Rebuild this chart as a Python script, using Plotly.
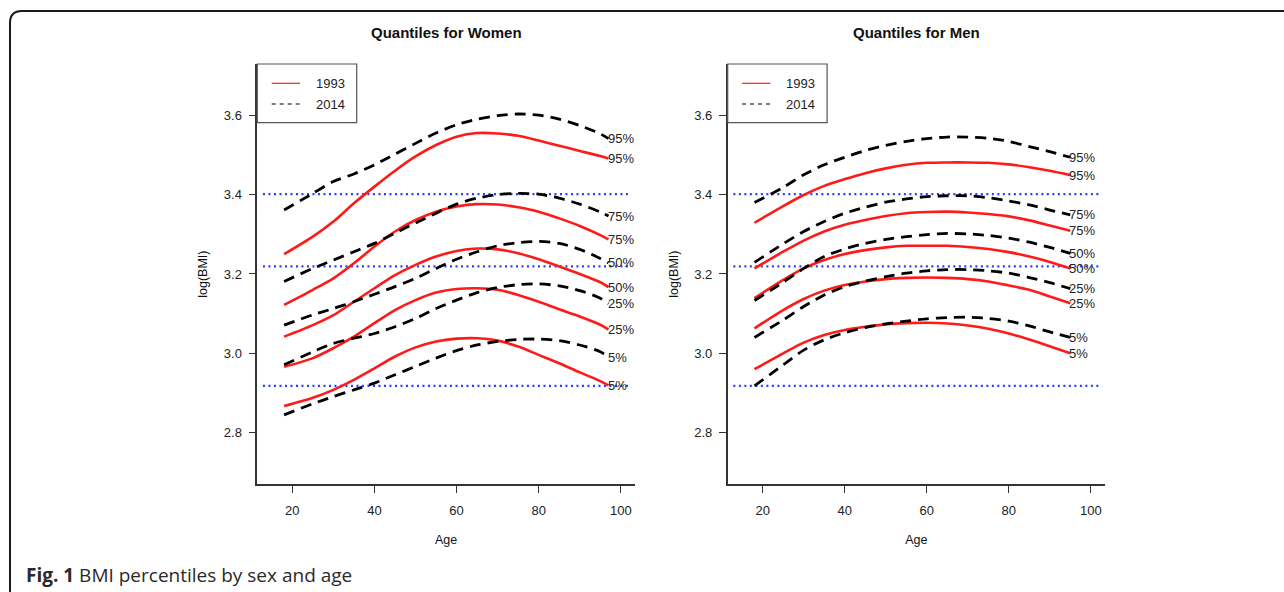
import math
import plotly.graph_objects as go

# ---------------- data ----------------
quantile_labels = ["95%", "75%", "50%", "25%", "5%"]

ages_women = [18, 25, 30, 35, 40, 45, 50, 55, 60, 65, 70, 75, 80, 85, 90, 95, 97]
ages_men = [18, 25, 30, 35, 40, 45, 50, 55, 60, 65, 70, 75, 80, 85, 90, 95]

women_1993_q95 = [3.250, 3.294, 3.332, 3.378, 3.420, 3.460, 3.496, 3.525, 3.546, 3.555, 3.554, 3.548, 3.536, 3.523, 3.510, 3.497, 3.491]
women_1993_q75 = [3.122, 3.160, 3.189, 3.227, 3.269, 3.307, 3.336, 3.357, 3.370, 3.376, 3.375, 3.368, 3.357, 3.340, 3.321, 3.298, 3.287]
women_1993_q50 = [3.042, 3.071, 3.096, 3.130, 3.164, 3.197, 3.223, 3.244, 3.258, 3.264, 3.262, 3.252, 3.237, 3.219, 3.200, 3.179, 3.167]
women_1993_q25 = [2.966, 2.988, 3.013, 3.042, 3.076, 3.109, 3.134, 3.153, 3.162, 3.164, 3.160, 3.147, 3.130, 3.111, 3.093, 3.072, 3.060]
women_1993_q5 = [2.867, 2.888, 2.908, 2.933, 2.962, 2.992, 3.015, 3.030, 3.037, 3.038, 3.032, 3.017, 2.996, 2.975, 2.952, 2.930, 2.919]

women_2014_q95 = [3.361, 3.403, 3.433, 3.452, 3.475, 3.502, 3.529, 3.555, 3.576, 3.590, 3.599, 3.603, 3.600, 3.590, 3.574, 3.553, 3.541]
women_2014_q75 = [3.181, 3.214, 3.235, 3.256, 3.277, 3.303, 3.328, 3.353, 3.376, 3.391, 3.400, 3.403, 3.401, 3.391, 3.376, 3.356, 3.346]
women_2014_q50 = [3.071, 3.097, 3.113, 3.130, 3.149, 3.168, 3.189, 3.214, 3.237, 3.256, 3.271, 3.279, 3.282, 3.277, 3.262, 3.239, 3.228]
women_2014_q25 = [2.971, 3.004, 3.025, 3.038, 3.050, 3.067, 3.088, 3.113, 3.134, 3.153, 3.166, 3.173, 3.175, 3.170, 3.158, 3.139, 3.125]
women_2014_q5 = [2.845, 2.873, 2.891, 2.908, 2.925, 2.946, 2.967, 2.988, 3.007, 3.021, 3.030, 3.035, 3.036, 3.032, 3.021, 3.004, 2.990]

men_1993_q95 = [3.329, 3.371, 3.399, 3.422, 3.439, 3.454, 3.466, 3.475, 3.480, 3.481, 3.481, 3.480, 3.476, 3.469, 3.460, 3.449]
men_1993_q75 = [3.214, 3.256, 3.284, 3.307, 3.324, 3.336, 3.346, 3.353, 3.356, 3.357, 3.355, 3.351, 3.345, 3.335, 3.322, 3.309]
men_1993_q50 = [3.139, 3.185, 3.214, 3.235, 3.250, 3.260, 3.267, 3.271, 3.271, 3.271, 3.268, 3.263, 3.255, 3.244, 3.230, 3.214]
men_1993_q25 = [3.063, 3.109, 3.137, 3.158, 3.172, 3.181, 3.187, 3.190, 3.191, 3.190, 3.187, 3.181, 3.171, 3.160, 3.143, 3.126]
men_1993_q5 = [2.960, 3.000, 3.027, 3.046, 3.059, 3.067, 3.073, 3.076, 3.077, 3.075, 3.070, 3.062, 3.050, 3.035, 3.018, 3.000]

men_2014_q95 = [3.380, 3.418, 3.450, 3.475, 3.494, 3.511, 3.524, 3.534, 3.541, 3.545, 3.545, 3.542, 3.534, 3.521, 3.508, 3.494]
men_2014_q75 = [3.229, 3.276, 3.307, 3.332, 3.353, 3.368, 3.381, 3.389, 3.395, 3.397, 3.397, 3.392, 3.384, 3.374, 3.361, 3.349]
men_2014_q50 = [3.133, 3.179, 3.214, 3.244, 3.263, 3.277, 3.287, 3.294, 3.299, 3.302, 3.301, 3.297, 3.290, 3.280, 3.267, 3.252]
men_2014_q25 = [3.040, 3.084, 3.118, 3.147, 3.168, 3.182, 3.193, 3.202, 3.208, 3.211, 3.211, 3.208, 3.202, 3.191, 3.178, 3.163]
men_2014_q5 = [2.918, 2.971, 3.008, 3.034, 3.052, 3.065, 3.074, 3.081, 3.087, 3.090, 3.091, 3.088, 3.081, 3.069, 3.054, 3.040]

bmi_cutoffs = [18.5, 25, 30]
x_ticks = [20, 40, 60, 80, 100]
y_ticks = [2.8, 3.0, 3.2, 3.4, 3.6]
legend_years = ["1993", "2014"]
panel_titles = ["Quantiles for Women", "Quantiles for Men"]
caption_bold = "Fig. 1"
caption_text = "BMI percentiles by sex and age"

# ---------------- layout constants ----------------
W, H = 1284, 592
FONT = "Liberation Sans, Arial, Helvetica, sans-serif"
RED = "#ff1a1a"
BLACK = "#000000"
BLUE = "#2a3cff"
AXC = "#333333"

def px_x(p):
    return p / W

def px_y(p):
    return 1 - p / H

panels = [
    dict(xa="x", ya="y", ages=ages_women,
         s1993=[women_1993_q95, women_1993_q75, women_1993_q50, women_1993_q25, women_1993_q5],
         s2014=[women_2014_q95, women_2014_q75, women_2014_q50, women_2014_q25, women_2014_q5],
         dom=(257.3, 635.0)),
    dict(xa="x2", ya="y2", ages=ages_men,
         s1993=[men_1993_q95, men_1993_q75, men_1993_q50, men_1993_q25, men_1993_q5],
         s2014=[men_2014_q95, men_2014_q75, men_2014_q50, men_2014_q25, men_2014_q5],
         dom=(727.7, 1105.0)),
]
Y_TOP, Y_BOT = 64.0, 484.3
X_RANGE = [11.47, 103.45]
Y_RANGE = [2.670, 3.729]

fig = go.Figure()
annotations = []
shapes = []

for i, p in enumerate(panels):
    for vals in p["s1993"]:
        fig.add_trace(go.Scatter(x=p["ages"], y=vals, mode="lines", xaxis=p["xa"], yaxis=p["ya"],
                                 line=dict(color=RED, width=2.6, shape="spline", smoothing=0.8),
                                 showlegend=False, hoverinfo="skip"))
    for vals in p["s2014"]:
        fig.add_trace(go.Scatter(x=p["ages"], y=vals, mode="lines", xaxis=p["xa"], yaxis=p["ya"],
                                 line=dict(color=BLACK, width=2.8, dash="11px,7px", shape="spline", smoothing=0.8),
                                 showlegend=False, hoverinfo="skip"))
    # end labels
    for series in (p["s2014"], p["s1993"]):
        for lab, vals in zip(quantile_labels, series):
            annotations.append(dict(x=p["ages"][-1], y=vals[-1], xref=p["xa"], yref=p["ya"],
                                    text=lab, showarrow=False, xanchor="left", yanchor="middle",
                                    xshift=-3, font=dict(family=FONT, size=13, color="#222222")))
    # cut-off lines (log BMI)
    for c in bmi_cutoffs:
        shapes.append(dict(type="line", xref=p["xa"] + " domain", yref=p["ya"],
                           x0=0.015, x1=0.99, y0=math.log(c), y1=math.log(c),
                           line=dict(color=BLUE, width=2.2, dash="2px,3.5px"), layer="below"))
    # title
    cx = (p["dom"][0] + p["dom"][1]) / 2
    annotations.append(dict(x=px_x(cx), y=px_y(32), xref="paper", yref="paper",
                            text="<b>%s</b>" % panel_titles[i], showarrow=False,
                            xanchor="center", yanchor="middle",
                            font=dict(family=FONT, size=15, color="#111111")))
    # custom legend box (top-left of plot region)
    dw = p["dom"][1] - p["dom"][0]
    dh = Y_BOT - Y_TOP
    def dx(px):
        return (px) / dw
    def dy(py):
        return 1 - py / dh
    shapes.append(dict(type="rect", xref=p["xa"] + " domain", yref=p["ya"] + " domain",
                       x0=0, x1=dx(99.4), y0=dy(58.7), y1=1,
                       line=dict(color="#555555", width=1.2), fillcolor="white", layer="above"))
    shapes.append(dict(type="line", xref=p["xa"] + " domain", yref=p["ya"] + " domain",
                       x0=dx(14.4), x1=dx(42.7), y0=dy(19.3), y1=dy(19.3),
                       line=dict(color=RED, width=1.2), layer="above"))
    shapes.append(dict(type="line", xref=p["xa"] + " domain", yref=p["ya"] + " domain",
                       x0=dx(14.4), x1=dx(42.7), y0=dy(40), y1=dy(40),
                       line=dict(color=BLACK, width=1.1, dash="4px,4px"), layer="above"))
    for k, yr in enumerate(legend_years):
        annotations.append(dict(x=dx(56.5), y=dy(19.3 + 20.7 * k), xref=p["xa"] + " domain",
                                yref=p["ya"] + " domain", text=yr, showarrow=False,
                                xanchor="left", yanchor="middle",
                                font=dict(family=FONT, size=13, color="#222222")))

# outer rounded frame (top-left corner)
def P(x, y):
    return "%.6f,%.6f" % (px_x(x), px_y(y))

frame_path = "M " + P(10, 600) + " L " + P(10, 23) + " Q " + P(10, 11) + " " + P(22, 11) + " L " + P(1290, 11)
shapes.append(dict(type="path", xref="paper", yref="paper", path=frame_path,
                   line=dict(color="#1a1a1a", width=2)))

# caption
annotations.append(dict(x=px_x(24), y=px_y(575), xref="paper", yref="paper",
                        text="<b>%s</b> %s" % (caption_bold, caption_text), showarrow=False,
                        xanchor="left", yanchor="middle",
                        font=dict(family="Open Sans, Noto Sans, sans-serif", size=19, color="#2a2a2a")))

axis_common = dict(showgrid=False, zeroline=False, showline=True, linecolor=AXC, linewidth=1.6,
                   ticks="outside", ticklen=7, tickwidth=1.3, tickcolor=AXC, mirror=False,
                   tickfont=dict(family=FONT, size=13, color="#222222"))

xaxis_cfg = dict(range=X_RANGE, tickvals=x_ticks, ticklabelstandoff=6,
                 title=dict(text="Age", font=dict(family=FONT, size=12.5, color="#111111"), standoff=19),
                 **axis_common)
yaxis_cfg = dict(range=Y_RANGE, tickvals=y_ticks, tickformat=".1f", ticklabelstandoff=4,
                 title=dict(text="log(BMI)", font=dict(family=FONT, size=12.5, color="#111111"), standoff=13),
                 **axis_common)

fig.update_layout(
    width=W, height=H,
    margin=dict(l=0, r=0, t=0, b=0),
    paper_bgcolor="white", plot_bgcolor="white",
    showlegend=False,
    xaxis=dict(domain=[px_x(panels[0]["dom"][0]), px_x(panels[0]["dom"][1])], anchor="y", **xaxis_cfg),
    yaxis=dict(domain=[px_y(Y_BOT), px_y(Y_TOP)], anchor="x", **yaxis_cfg),
    xaxis2=dict(domain=[px_x(panels[1]["dom"][0]), px_x(panels[1]["dom"][1])], anchor="y2", **xaxis_cfg),
    yaxis2=dict(domain=[px_y(Y_BOT), px_y(Y_TOP)], anchor="x2", **yaxis_cfg),
    annotations=annotations,
    shapes=shapes,
)

fig.write_html("out.html", config={"displayModeBar": False})
